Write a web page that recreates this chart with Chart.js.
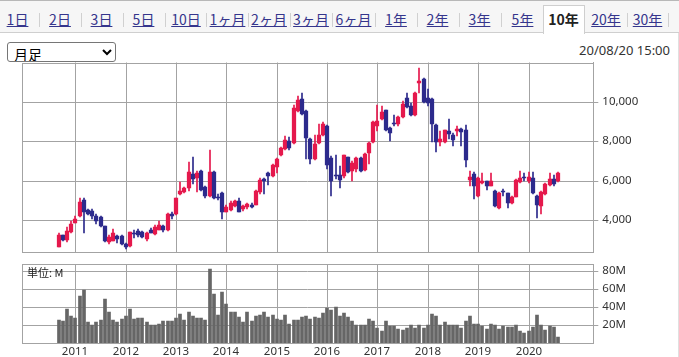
<!DOCTYPE html>
<html><head><meta charset="utf-8">
<script src="https://cdn.jsdelivr.net/npm/chart.js@4/dist/chart.umd.min.js"></script>
<style>
html,body{margin:0;padding:0;background:#fff;}
body{width:679px;height:357px;position:relative;overflow:hidden;font-family:"Noto Sans CJK JP","Noto Sans",sans-serif;}
#tabs{position:absolute;left:0;top:0;width:679px;height:33px;background:#f6f6f6;border-top:1px solid #b8b8b8;border-bottom:1px solid #cfcfcf;box-sizing:border-box;}
.t{position:absolute;top:10px;font-size:14px;line-height:16px;color:#35358c;text-decoration:underline;transform:translateX(-50%);white-space:nowrap;}
.sep{position:absolute;top:12px;width:1px;height:14px;background:#d0d0d0;}
#sel{position:absolute;left:543px;top:4px;width:42px;height:29px;background:#fff;border:1px solid #cfcfcf;border-bottom:none;box-sizing:border-box;}
#selt{position:absolute;left:563.5px;top:10px;font-size:14px;line-height:16px;font-weight:bold;color:#222;transform:translateX(-50%);}
select{position:absolute;left:7px;top:42px;width:109px;height:20px;font-size:14px;font-family:"Noto Sans CJK JP",sans-serif;padding:0 0 0 2px;border:1px solid #767676;border-radius:3px;background:#fff;color:#000;}
#date{position:absolute;right:9px;top:41px;font-size:13px;color:#333;font-family:"Noto Sans","Noto Sans CJK JP",sans-serif;}
#unit{position:absolute;left:27px;top:264px;font-size:11px;color:#222;}
#rline{position:absolute;left:678px;top:33px;width:1px;height:324px;background:#e0e0e0;}
canvas{position:absolute;left:0;top:0;}
</style></head>
<body>
<div id="tabs">
<span class="t" style="left:17.5px">1日</span><div class="sep" style="left:39px"></div>
<span class="t" style="left:60px">2日</span><div class="sep" style="left:81px"></div>
<span class="t" style="left:101.5px">3日</span><div class="sep" style="left:123px"></div>
<span class="t" style="left:143.5px">5日</span><div class="sep" style="left:165px"></div>
<span class="t" style="left:186px">10日</span><div class="sep" style="left:206px"></div>
<span class="t" style="left:227.5px">1ヶ月</span><div class="sep" style="left:248px"></div>
<span class="t" style="left:269px">2ヶ月</span><div class="sep" style="left:290px"></div>
<span class="t" style="left:311px">3ヶ月</span><div class="sep" style="left:332px"></div>
<span class="t" style="left:353.5px">6ヶ月</span><div class="sep" style="left:375px"></div>
<span class="t" style="left:396px">1年</span><div class="sep" style="left:417px"></div>
<span class="t" style="left:437.5px">2年</span><div class="sep" style="left:459px"></div>
<span class="t" style="left:479.5px">3年</span><div class="sep" style="left:501px"></div>
<span class="t" style="left:522.5px">5年</span>
<div id="sel"></div><span id="selt">10年</span>
<span class="t" style="left:606px">20年</span><div class="sep" style="left:627px"></div>
<span class="t" style="left:647.5px">30年</span><div class="sep" style="left:668px"></div>
</div>
<div id="rline"></div>
<select><option>月足</option></select>
<div id="date">20/08/20 15:00</div>
<canvas id="c1" width="679" height="357"></canvas>
<canvas id="c2" width="679" height="357"></canvas>
<div id="unit">単位: M</div>
<script>
// Monthly candles, Sep 2010 (index 0) .. Aug 2020 (index 119)
const open = [2660,3240,2970,3390,3880,4190,5030,4520,4470,4200,4140,3700,2900,2950,3220,3200,2800,2710,3340,3460,
3410,3030,3490,3300,3510,3710,3510,4300,4320,5320,5410,5630,6340,6120,6475,5660,5240,6420,5200,5360,
4440,4510,4730,4980,4560,4680,4780,4780,5410,6085,6370,6250,6710,7300,7610,8000,7900,9560,10150,9560,
8120,7100,7900,8320,8770,7130,6290,6290,6250,7180,6500,6620,7130,6550,7400,7970,8770,9140,9580,8690,
8940,8860,9240,10200,9810,9360,10960,11160,10200,10150,8810,7970,7970,8540,8340,8520,8630,8590,6050,6360,
5240,5880,5970,5750,5460,4610,5490,5370,4860,5200,5920,6170,5970,6140,5240,4700,5340,5800,6090,5970];
const high = [3340,3260,3630,3950,4190,5150,5140,4560,4590,4300,4190,3720,3250,3540,3250,3240,2830,3420,3490,3540,
3460,3410,3590,3740,3970,3760,4340,4390,5150,5950,5660,6930,7180,6470,6540,5710,7580,6480,5320,5410,
4750,4950,5020,5100,4780,4860,4850,5530,6120,6150,6420,6850,7150,7730,8290,8200,9860,10320,10440,9590,
8170,8300,8860,8970,8810,7260,7290,6760,7330,7230,7000,7180,7180,7400,7970,9020,9860,9780,9610,8740,
9360,9310,10030,10450,9950,10490,11710,11210,10650,10200,8860,8500,8600,9130,8420,8760,8700,8850,6520,6420,
6190,6390,6000,6390,5540,5410,5580,5400,5240,6090,6480,6390,6420,6420,5290,5460,5880,6390,6310,6420];
const low = [2630,2930,2915,3356,3850,4150,3370,4250,4050,3810,3640,2900,2780,2920,2830,2760,2560,2660,3085,3140,
3100,2920,3340,3270,3480,3410,3460,4050,4250,5290,5360,5460,5830,5440,5490,5150,5200,5070,5020,4050,
4390,4470,4680,4390,4480,4590,4610,4750,5350,5320,5780,6200,6370,7250,7560,7560,7860,9470,9360,7100,
6850,7050,7850,8280,6590,5210,6085,5610,6150,6400,6000,6450,6450,6500,6840,7930,8520,9070,8500,8020,
8770,8800,9200,9700,9310,9310,10450,9920,9780,7970,7460,7780,7930,8100,7740,8250,7780,6700,5710,5070,
5200,5830,5540,5710,4660,4580,5240,4610,4830,5170,5880,5970,5880,5340,4100,4320,5290,5750,5750,5940];
const close = [3250,2970,3460,3810,4070,4930,4390,4300,4190,3980,3680,2920,3140,3360,3050,2800,2630,3390,3290,3240,
3140,3360,3370,3630,3730,3510,4290,4220,5120,5460,5630,6420,6090,6390,5530,5240,6420,5150,5100,4440,
4680,4850,4950,4440,4730,4810,4680,5490,6050,5970,6250,6800,7100,7640,8070,7660,9700,10100,9390,8170,
7100,7840,8300,8890,6790,6000,6220,6050,7290,6450,6920,7130,6500,7350,7900,8970,9010,9480,8550,8400,
8890,9240,9870,9750,9360,10450,11040,9980,9950,8860,7970,8130,8550,8390,8050,8630,8450,7070,6190,5710,
6140,5970,5750,6000,4700,5370,5410,4860,5200,6050,6140,6120,6190,5370,4780,5410,5850,6090,5850,6390];
// Volume, millions of shares
const volume = [26,25,38,30,28,52,59,23,20,23,26,49,34,26,23,27,30,38,27,28,
28,23,20,20,21,24,25,24,28,32,26,35,30,28,28,26,82,54,31,57,
43,34,35,29,23,35,25,30,31,35,29,31,27,26,31,21,26,26,29,30,
27,29,28,33,39,37,40,30,33,29,24,20,19.6,19.6,27,24,17,13.5,24,18.5,
18.5,16,14.6,17,19.6,16.5,20.4,17,19.6,32,30,19.6,23,19.6,19.6,19.6,17,25,30,21.5,
21,19,16,21,20,16,19,18,18,20,13,11,13,18,31,20,15,19,18,7];
const yearTicks = [4,16,28,40,52,64,76,88,100,112];
const yearLabels = ['2011','2012','2013','2014','2015','2016','2017','2018','2019','2020'];
const priceTicks = [4000,6000,8000,10000];
const volumeTicks = [20,40,60,80];

const UP='#e5184c', DOWN='#2c2a8c', GRID='#a3a3a3';
const idx = open.map((_,i)=>i);
const cols = idx.map(i => close[i] >= open[i] ? UP : DOWN);
const XMIN=-8.64, XMAX=127.43;

const borderPlugin = {id:'areaBorder', afterDraw(chart){
  const a=chart.chartArea, c=chart.ctx;
  c.save(); c.strokeStyle=GRID; c.lineWidth=1;
  c.strokeRect(Math.round(a.left)+0.5, Math.round(a.top)+0.5, Math.round(a.right)-Math.round(a.left), Math.round(a.bottom)-Math.round(a.top));
  c.restore();
}};
const tickFont = {family:'"Noto Sans", sans-serif', size:11.5};

new Chart(document.getElementById('c1'), {
  type:'bar',
  data:{datasets:[
    {data: idx.map(i=>({x:i, y:[low[i], high[i]]})), backgroundColor:cols, barThickness:1, grouped:false, order:2},
    {data: idx.map(i=>({x:i, y:[open[i], close[i]]})), backgroundColor:cols, barThickness:3.6, minBarLength:1, grouped:false, order:1}
  ]},
  options:{
    responsive:false, animation:false, devicePixelRatio:1,
    layout:{padding:{left:22.3, top:62.5, right:0, bottom:0}},
    plugins:{legend:{display:false}, tooltip:{enabled:false}},
    scales:{
      x:{type:'linear', min:XMIN, max:XMAX, offset:false, alignToPixels:true,
         grid:{offset:false, color:GRID, drawTicks:false}, border:{color:GRID},
         ticks:{display:false},
         afterBuildTicks:s=>{s.ticks = yearTicks.map(v=>({value:v}));},
         afterFit:s=>{s.height=104.7;}},
      y:{position:'right', min:2370, max:12000, alignToPixels:true,
         grid:{color:GRID, tickLength:5}, border:{color:GRID},
         ticks:{color:'#333', font:tickFont, padding:4, callback:v=>v.toLocaleString('en-US')},
         afterBuildTicks:s=>{s.ticks = priceTicks.map(v=>({value:v}));},
         afterFit:s=>{s.width=85.7;}}
    }
  },
  plugins:[borderPlugin]
});

new Chart(document.getElementById('c2'), {
  type:'bar',
  data:{datasets:[
    {data: idx.map(i=>({x:i, y:volume[i]})), backgroundColor:'#666666', barThickness:3, grouped:false}
  ]},
  options:{
    responsive:false, animation:false, devicePixelRatio:1,
    layout:{padding:{left:22.3, top:264, right:0, bottom:0}},
    plugins:{legend:{display:false}, tooltip:{enabled:false}},
    scales:{
      x:{type:'linear', min:XMIN, max:XMAX, offset:false, alignToPixels:true,
         grid:{offset:false, color:GRID, drawTicks:false}, border:{color:GRID},
         ticks:{color:'#333', font:tickFont, padding:2, autoSkip:false, maxRotation:0,
                callback:v=>{const k=yearTicks.indexOf(v); return k>=0?yearLabels[k]:'';}},
         afterBuildTicks:s=>{s.ticks = yearTicks.map(v=>({value:v}));},
         afterFit:s=>{s.height=14;}},
      y:{position:'right', min:0, max:87.8, alignToPixels:true,
         grid:{color:GRID, tickLength:5}, border:{color:GRID},
         ticks:{color:'#333', font:tickFont, padding:4, callback:v=>v+'M'},
         afterBuildTicks:s=>{s.ticks = volumeTicks.map(v=>({value:v}));},
         afterFit:s=>{s.width=85.7;}}
    }
  },
  plugins:[borderPlugin]
});
</script>
</body></html>
